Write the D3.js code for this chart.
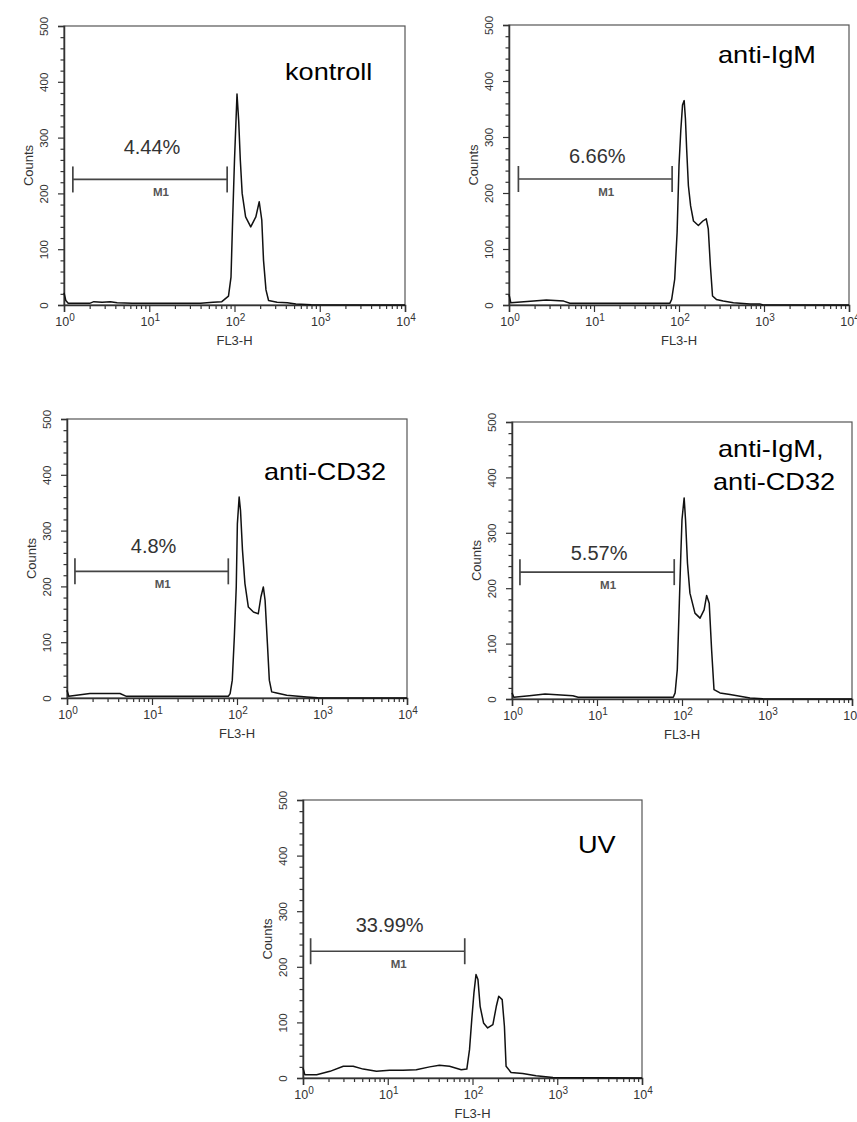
<!DOCTYPE html>
<html>
<head>
<meta charset="utf-8">
<script src="https://cdn.jsdelivr.net/npm/d3@7"></script>
<style>
  body { margin: 0; background: #fff; }
  svg { display: block; font-family: "Liberation Sans", Arial, sans-serif; }
</style>
</head>
<body>
<svg id="chart" width="857" height="1122"></svg>
<script>
// ---- data: [FL3-H, counts] ----
const kontroll = [
  [1, 22], [1.05, 8], [1.12, 3], [2.0, 3], [2.24, 6], [2.8, 5], [3.5, 6], [4.2, 4],
  [6.3, 3], [15.8, 3], [40, 3], [56, 5], [71, 6], [85, 16], [91, 50], [95, 150],
  [100, 260], [105, 345], [107, 378], [112, 330], [117, 260], [123, 200], [135, 158],
  [155, 140], [178, 158], [195, 185], [209, 152], [219, 80], [234, 27], [251, 8],
  [316, 5], [417, 4], [525, 2], [794, 0.5], [10000, 0]
];
const antiIgM = [
  [1, 19], [1.05, 4], [1.95, 7], [2.75, 9], [4.4, 7], [5.2, 3], [78, 3], [82, 10],
  [89, 46], [95, 130], [100, 249], [105, 312], [110, 357], [115, 365], [119, 333],
  [123, 279], [129, 213], [137, 177], [148, 150], [169, 142], [191, 150], [209, 154],
  [221, 136], [234, 70], [248, 16], [275, 10], [331, 7], [437, 4], [684, 2], [891, 2],
  [955, 0.5], [10000, 0]
];
const antiCD32 = [
  [1, 14], [1.05, 3], [1.86, 8], [4.2, 8], [5.0, 3], [79, 3], [83, 8], [88, 32],
  [93, 109], [98, 199], [101, 312], [106, 360], [110, 336], [116, 265], [124, 205],
  [136, 163], [156, 154], [178, 151], [191, 181], [204, 199], [214, 175], [228, 97],
  [240, 32], [256, 11], [293, 9], [385, 5], [661, 2], [891, 0.5], [10000, 0]
];
const antiIgMCD32 = [
  [1, 11], [1.05, 3], [1.6, 6], [2.45, 9], [5.2, 6], [6.0, 3], [79, 3], [83, 11],
  [88, 53], [93, 173], [97, 264], [100, 324], [106, 363], [110, 324], [116, 245],
  [124, 191], [142, 155], [163, 146], [182, 161], [195, 187], [209, 173], [223, 89],
  [238, 17], [280, 11], [367, 8], [631, 2], [891, 0.5], [10000, 0]
];
const uv = [
  [1, 18], [1.05, 6], [1.45, 6], [2.08, 12], [2.99, 21], [3.91, 21], [5.13, 16],
  [7.36, 12], [10.5, 14], [15.1, 14], [21.7, 15], [31.2, 20], [40.7, 23], [53.6, 21],
  [73.6, 15], [85.7, 16], [92.2, 51], [98, 105], [104, 153], [110, 186], [116, 177],
  [123, 129], [135, 99], [151, 90], [174, 96], [191, 129], [204, 147], [224, 141],
  [238, 93], [249, 21], [285, 10], [391, 8], [562, 4], [891, 1], [10000, 0]
];

const histograms = [kontroll, antiIgM, antiCD32, antiIgMCD32, uv];
const panelNames = [["kontroll"], ["anti-IgM"], ["anti-CD32"], ["anti-IgM,", "anti-CD32"], ["UV"]];
const m1Percent = ["4.44%", "6.66%", "4.8%", "5.57%", "33.99%"];
const m1Range = [[1.27, 82], [1.29, 83], [1.24, 79], [1.24, 81], [1.23, 81]];
const m1Count = [225, 225, 227, 229, 228];

const fl3hTicks = [1, 10, 100, 1000, 10000];
const fl3hExp = ["0", "1", "2", "3", "4"];
const countTicks = [0, 100, 200, 300, 400, 500];

// ---- layout ----
const boxes = [
  { x: 64,  y: 26,  w: 341, h: 279, name: [[221, 54]],             gap: 25 },
  { x: 509, y: 25,  w: 340, h: 280, name: [[209, 38]],             gap: 16 },
  { x: 67,  y: 419, w: 340, h: 279, name: [[197, 61]],             gap: 18 },
  { x: 512, y: 422, w: 340, h: 277, name: [[206, 35], [201, 68]],  gap: 12 },
  { x: 303, y: 800, w: 339, h: 278, name: [[275, 53]],             gap: 19 }
];

const svg = d3.select("#chart");
const ink = "#333";

const minorX = [];
[1, 10, 100, 1000].forEach(p => { for (let k = 2; k <= 9; k++) minorX.push(k * p); });
const minorY = d3.range(0, 501, 20).filter(v => v % 100 !== 0);

boxes.forEach((b, i) => {
  const g = svg.append("g").attr("transform", `translate(${b.x},${b.y})`);

  const x = d3.scaleLog().domain([1, 10000]).range([0, b.w]);
  const y = d3.scaleLinear().domain([0, 500]).range([b.h, 0]);

  // frame
  g.append("rect")
    .attr("width", b.w).attr("height", b.h)
    .attr("fill", "none").attr("stroke", "#555").attr("stroke-width", 1.2);

  // y axis
  const yAxis = g.append("g")
    .call(d3.axisLeft(y).tickValues(countTicks).tickSize(6).tickFormat(d3.format("d")));
  g.append("g")
    .call(d3.axisLeft(y).tickValues(minorY).tickSize(3.5).tickFormat(""))
    .select(".domain").remove();
  yAxis.select(".domain").attr("stroke", ink).attr("stroke-width", 1.5);
  yAxis.selectAll(".tick text")
    .attr("transform", "rotate(-90)")
    .attr("x", 0).attr("y", -16).attr("dy", 0)
    .attr("text-anchor", "middle")
    .attr("font-size", 11.5).attr("fill", "#333");

  // x axis
  const xAxis = g.append("g").attr("transform", `translate(0,${b.h})`)
    .call(d3.axisBottom(x).tickValues(fl3hTicks).tickSize(7).tickFormat(""));
  g.append("g").attr("transform", `translate(0,${b.h})`)
    .call(d3.axisBottom(x).tickValues(minorX).tickSize(4).tickFormat(""))
    .select(".domain").remove();
  xAxis.select(".domain").attr("stroke", ink).attr("stroke-width", 1.5);
  g.selectAll(".tick line").attr("stroke", ink).attr("stroke-width", 1.2);

  const xl = g.append("g").selectAll("text")
    .data(fl3hTicks)
    .join("text")
    .attr("x", d => x(d) + 1)
    .attr("y", b.h + 21)
    .attr("text-anchor", "middle")
    .attr("font-size", 12.5)
    .attr("fill", "#333");
  xl.append("tspan").text("10");
  xl.append("tspan").attr("dy", -5).attr("font-size", 10).text((d, j) => fl3hExp[j]);

  g.append("text")
    .attr("x", b.w / 2).attr("y", b.h + 40)
    .attr("text-anchor", "middle")
    .attr("font-size", 13).attr("fill", "#333")
    .text("FL3-H");

  g.append("text")
    .attr("transform", `translate(-31,${b.h / 2}) rotate(-90)`)
    .attr("text-anchor", "middle")
    .attr("font-size", 13).attr("fill", "#333")
    .text("Counts");

  // histogram
  const line = d3.line()
    .x(d => x(d[0]))
    .y(d => y(d[1]));
  g.append("path")
    .datum(histograms[i])
    .attr("fill", "none")
    .attr("stroke", "#111")
    .attr("stroke-width", 1.5)
    .attr("stroke-linejoin", "round")
    .attr("d", line);

  // M1 marker
  const mx0 = x(m1Range[i][0]), mx1 = x(m1Range[i][1]), my = y(m1Count[i]);
  const mk = g.append("g").attr("stroke", "#444").attr("stroke-width", 1.7);
  mk.append("line").attr("x1", mx0).attr("x2", mx1).attr("y1", my).attr("y2", my);
  mk.append("line").attr("x1", mx0).attr("x2", mx0).attr("y1", my - 13).attr("y2", my + 13);
  mk.append("line").attr("x1", mx1).attr("x2", mx1).attr("y1", my - 13).attr("y2", my + 13);

  g.append("text")
    .attr("x", (mx0 + mx1) / 2 + 11).attr("y", my + 17)
    .attr("text-anchor", "middle")
    .attr("font-size", 11.5).attr("font-weight", "bold").attr("fill", "#555")
    .text("M1");

  g.append("text")
    .attr("x", (mx0 + mx1) / 2 + 2).attr("y", my - b.gap)
    .attr("text-anchor", "middle")
    .attr("font-size", 20).attr("fill", "#333")
    .text(m1Percent[i]);

  // panel name
  panelNames[i].forEach((t, k) => {
    g.append("text")
      .attr("transform", `translate(${b.name[k][0]},${b.name[k][1]}) scale(1.13,1)`)
      .attr("font-size", 24).attr("fill", "#000")
      .text(t);
  });
});
</script>
</body>
</html>
